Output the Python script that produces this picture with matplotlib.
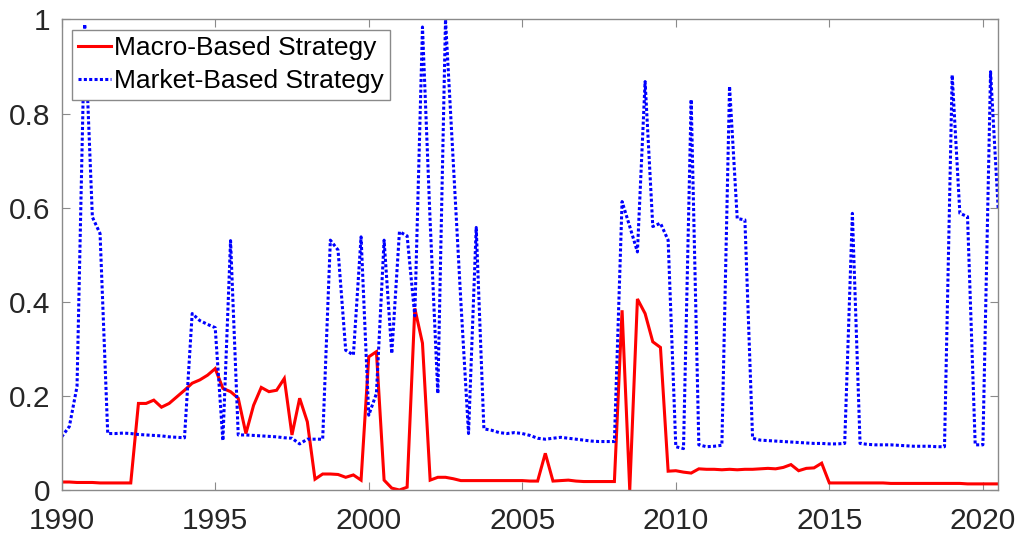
import numpy as np
import matplotlib
matplotlib.use("Agg")
import matplotlib.pyplot as plt

plt.rcParams['font.family'] = ['Liberation Sans', 'DejaVu Sans']

# Quarterly observations, 1990Q1 .. 2020Q3
start_year = 1990
end_year = 2020.5

macro_based = [
    0.017, 0.017, 0.016, 0.016,   # 1990
    0.016, 0.015, 0.015, 0.015,   # 1991
    0.015, 0.015, 0.184, 0.184,   # 1992
    0.191, 0.176, 0.184, 0.198,   # 1993
    0.212, 0.227, 0.234, 0.244,   # 1994
    0.258, 0.216, 0.209, 0.195,   # 1995
    0.120, 0.180, 0.218, 0.209,   # 1996
    0.212, 0.237, 0.117, 0.195,   # 1997
    0.145, 0.023, 0.034, 0.034,   # 1998
    0.033, 0.027, 0.032, 0.021,   # 1999
    0.283, 0.294, 0.021, 0.004,   # 2000
    0.000, 0.006, 0.386, 0.312,   # 2001
    0.021, 0.027, 0.027, 0.024,   # 2002
    0.020, 0.020, 0.020, 0.020,   # 2003
    0.020, 0.020, 0.020, 0.020,   # 2004
    0.020, 0.019, 0.019, 0.078,   # 2005
    0.019, 0.020, 0.021, 0.019,   # 2006
    0.018, 0.018, 0.018, 0.018,   # 2007
    0.018, 0.382, 0.000, 0.406,   # 2008
    0.375, 0.315, 0.303, 0.040,   # 2009
    0.041, 0.038, 0.036, 0.045,   # 2010
    0.044, 0.044, 0.043, 0.044,   # 2011
    0.043, 0.044, 0.044, 0.045,   # 2012
    0.046, 0.045, 0.048, 0.054,   # 2013
    0.041, 0.046, 0.047, 0.057,   # 2014
    0.015, 0.015, 0.015, 0.015,   # 2015
    0.015, 0.015, 0.015, 0.015,   # 2016
    0.014, 0.014, 0.014, 0.014,   # 2017
    0.014, 0.014, 0.014, 0.014,   # 2018
    0.014, 0.014, 0.013, 0.013,   # 2019
    0.013, 0.013, 0.013,          # 2020
]

market_based = [
    0.113, 0.135, 0.220, 0.990,   # 1990
    0.580, 0.545, 0.120, 0.120,   # 1991
    0.121, 0.120, 0.118, 0.117,   # 1992
    0.116, 0.115, 0.113, 0.112,   # 1993
    0.111, 0.375, 0.360, 0.352,   # 1994
    0.345, 0.105, 0.530, 0.117,   # 1995
    0.117, 0.116, 0.115, 0.114,   # 1996
    0.113, 0.111, 0.110, 0.098,   # 1997
    0.108, 0.108, 0.108, 0.531,   # 1998
    0.510, 0.297, 0.287, 0.538,   # 1999
    0.159, 0.205, 0.531, 0.290,   # 2000
    0.549, 0.540, 0.370, 0.984,   # 2001
    0.570, 0.205, 1.000, 0.700,   # 2002
    0.400, 0.120, 0.558, 0.130,   # 2003
    0.127, 0.122, 0.120, 0.122,   # 2004
    0.120, 0.116, 0.110, 0.108,   # 2005
    0.110, 0.112, 0.110, 0.108,   # 2006
    0.106, 0.104, 0.103, 0.103,   # 2007
    0.103, 0.613, 0.560, 0.506,   # 2008
    0.868, 0.560, 0.567, 0.531,   # 2009
    0.092, 0.088, 0.830, 0.096,   # 2010
    0.092, 0.093, 0.095, 0.858,   # 2011
    0.577, 0.574, 0.110, 0.106,   # 2012
    0.105, 0.104, 0.103, 0.102,   # 2013
    0.101, 0.100, 0.099, 0.099,   # 2014
    0.098, 0.098, 0.099, 0.588,   # 2015
    0.099, 0.097, 0.096, 0.096,   # 2016
    0.096, 0.095, 0.094, 0.093,   # 2017
    0.093, 0.093, 0.092, 0.092,   # 2018
    0.882, 0.588, 0.581, 0.096,   # 2019
    0.096, 0.889, 0.596,          # 2020
]

series_labels = ['Macro-Based Strategy', 'Market-Based Strategy']

x_ticks = [1990, 1995, 2000, 2005, 2010, 2015, 2020]
x_tick_labels = ['1990', '1995', '2000', '2005', '2010', '2015', '2020']
y_ticks = [0, 0.2, 0.4, 0.6, 0.8, 1.0]
y_tick_labels = ['0', '0.2', '0.4', '0.6', '0.8', '1']

dates = start_year + np.arange(len(macro_based)) / 4.0

fig = plt.figure(figsize=(10.21, 5.35), dpi=100)
ax = fig.add_axes([0.0604, 0.0841, 0.9173, 0.8795])

ax.plot(dates, macro_based, color='#ff0000', lw=2.2, label=series_labels[0],
        solid_joinstyle='miter')
ax.plot(dates, market_based, color='#0000ff', lw=2.2, label=series_labels[1],
        linestyle=(0, (1, 0.75)), dash_capstyle='butt')

ax.set_xlim(start_year, end_year)
ax.set_ylim(0, 1)
ax.set_xticks(x_ticks)
ax.set_xticklabels(x_tick_labels)
ax.set_yticks(y_ticks)
ax.set_yticklabels(y_tick_labels)

frame_color = '#8a8a8a'
label_color = '#262626'
for s in ax.spines.values():
    s.set_color(frame_color)
    s.set_linewidth(1.0)
ax.tick_params(axis='both', which='both', direction='in', length=6,
               width=0.8, color=frame_color, labelcolor=label_color,
               labelsize=21.5, top=True, right=True)
ax.tick_params(axis='x', pad=12)
ax.tick_params(axis='y', pad=8)

leg = ax.legend(loc='upper left', fontsize=19, frameon=True, fancybox=False,
                handlelength=1.25, handletextpad=0.1, borderpad=0.25,
                labelspacing=0.35, borderaxespad=0.38)
leg.get_frame().set_edgecolor(frame_color)
leg.get_frame().set_linewidth(1.0)
leg.get_frame().set_alpha(1.0)

fig.savefig('out.png', dpi=100)
